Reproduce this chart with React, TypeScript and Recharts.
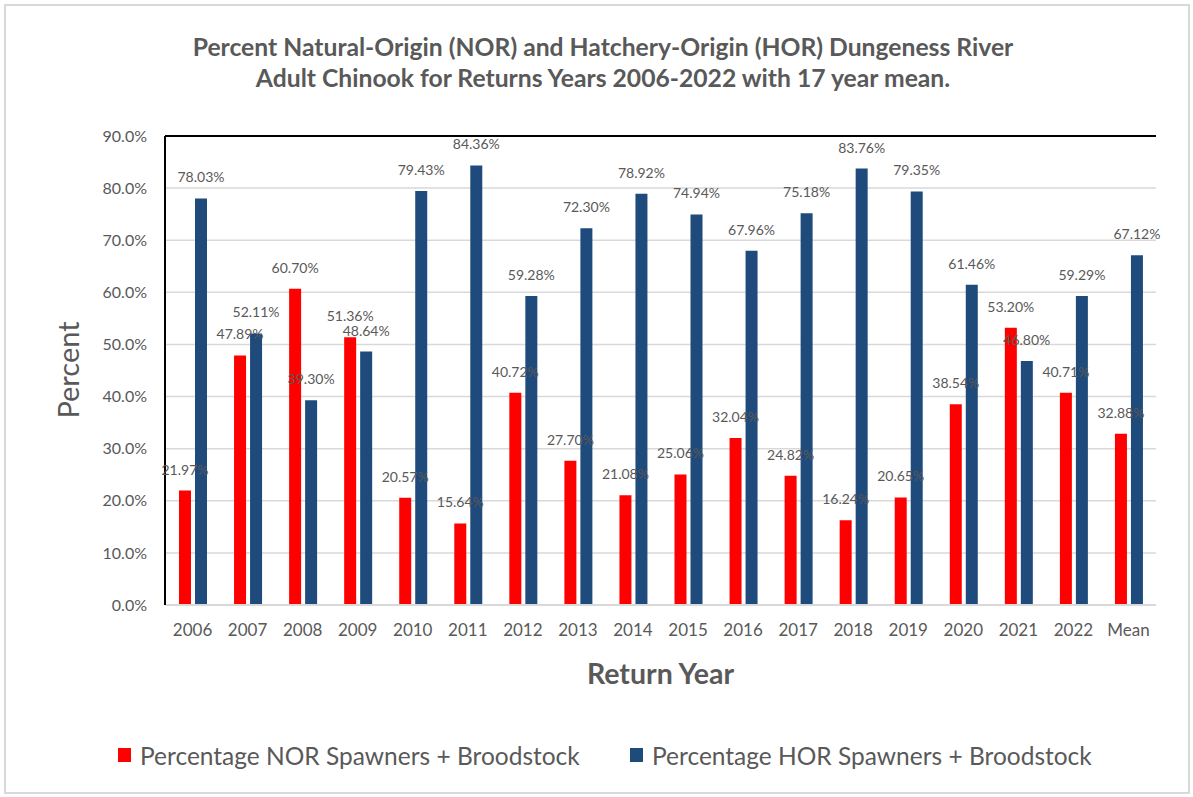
import {
  Bar,
  BarChart,
  CartesianGrid,
  LabelList,
  ReferenceLine,
  XAxis,
  YAxis,
} from "recharts";

const years = [
  "2006", "2007", "2008", "2009", "2010", "2011", "2012", "2013", "2014",
  "2015", "2016", "2017", "2018", "2019", "2020", "2021", "2022", "Mean",
];
const norPct = [
  21.97, 47.89, 60.7, 51.36, 20.57, 15.64, 40.72, 27.7, 21.08,
  25.06, 32.04, 24.82, 16.24, 20.65, 38.54, 53.2, 40.71, 32.88,
];
const horPct = [
  78.03, 52.11, 39.3, 48.64, 79.43, 84.36, 59.28, 72.3, 78.92,
  74.94, 67.96, 75.18, 83.76, 79.35, 61.46, 46.8, 59.29, 67.12,
];
const yTicks = [0, 10, 20, 30, 40, 50, 60, 70, 80, 90];

const NOR_RED = "#ff0000";
const HOR_BLUE = "#1f4a7c";
const TEXT = "#595959";
const GRID = "#d9d9d9";
const FONT = "Lato, 'Noto Sans', sans-serif";

const rows = years.map((year, i) => ({ year, nor: norPct[i], hor: horPct[i] }));

const fmtLabel = (v: any) => `${Number(v).toFixed(2)}%`;

function ChartLegend() {
  const items = [
    { name: "Percentage NOR Spawners + Broodstock", color: NOR_RED, left: 118 },
    { name: "Percentage HOR Spawners + Broodstock", color: HOR_BLUE, left: 630 },
  ];
  return (
    <>
      {items.map((it) => (
        <div
          key={it.name}
          style={{
            position: "absolute",
            left: it.left,
            top: 740,
            height: 30,
            display: "flex",
            alignItems: "center",
            fontFamily: FONT,
            fontSize: 24.5,
            color: TEXT,
            whiteSpace: "nowrap",
          }}
        >
          <span style={{ width: 13, height: 14, background: it.color, marginRight: 9 }} />
          <span>{it.name}</span>
        </div>
      ))}
    </>
  );
}

export default function App() {
  return (
    <div
      style={{
        position: "absolute",
        left: 0,
        top: 0,
        width: 1193,
        height: 797,
        background: "#fff",
        fontFamily: FONT,
      }}
    >
      <div
        style={{
          position: "absolute",
          left: 4,
          top: 4,
          width: 1182,
          height: 786,
          border: "2px solid #d9d9d9",
        }}
      />
      <div
        style={{
          position: "absolute",
          left: 0,
          top: 31,
          width: 1206,
          textAlign: "center",
          fontWeight: 700,
          fontSize: 24.7,
          lineHeight: "31px",
          color: TEXT,
        }}
      >
        Percent Natural-Origin (NOR) and Hatchery-Origin (HOR) Dungeness River
        <br />
        Adult Chinook for Returns Years 2006-2022 with 17 year mean.
      </div>
      <div
        style={{
          position: "absolute",
          left: 68,
          top: 370,
          transform: "translate(-50%, -50%) rotate(-90deg)",
          fontSize: 29,
          lineHeight: "32px",
          color: TEXT,
          whiteSpace: "nowrap",
        }}
      >
        Percent
      </div>
      <BarChart
        width={1193}
        height={797}
        data={rows}
        margin={{ top: 136, right: 37, bottom: 112, left: 90 }}
        barSize={12}
        barGap={4}
        style={{ position: "absolute", left: 0, top: 0 }}
      >
        <CartesianGrid vertical={false} stroke={GRID} strokeWidth={1.5} />
        <XAxis
          dataKey="year"
          height={80}
          tickLine={false}
          axisLine={{ stroke: GRID, strokeWidth: 2 }}
          tickSize={0}
          tickMargin={19}
          tick={{ fill: TEXT, fontSize: 17, fontFamily: FONT }}
          label={{
            value: "Return Year",
            position: "insideBottom",
            offset: 1,
            fill: TEXT,
            fontSize: 28.5,
            fontWeight: 700,
            fontFamily: FONT,
          }}
        />
        <YAxis
          width={75}
          domain={[0, 90]}
          ticks={yTicks}
          interval={0}
          tickLine={false}
          tickSize={0}
          tickMargin={18}
          axisLine={{ stroke: "#000", strokeWidth: 2 }}
          tickFormatter={(v) => `${Number(v).toFixed(1)}%`}
          tick={{ fill: TEXT, fontSize: 16, fontFamily: FONT }}
        />
        <YAxis
          yAxisId="frame"
          orientation="right"
          width={0}
          domain={[0, 90]}
          tick={false}
          tickLine={false}
          axisLine={{ stroke: "#000", strokeWidth: 2 }}
        />
        <ReferenceLine y={90} stroke="#000" strokeWidth={2} />
        <Bar dataKey="nor" name="Percentage NOR Spawners + Broodstock" fill={NOR_RED} isAnimationActive={false}>
          <LabelList
            dataKey="nor"
            position="top"
            offset={16}
            formatter={fmtLabel}
            fill={TEXT}
            fontSize={14}
            fontFamily={FONT}
          />
        </Bar>
        <Bar dataKey="hor" name="Percentage HOR Spawners + Broodstock" fill={HOR_BLUE} isAnimationActive={false}>
          <LabelList
            dataKey="hor"
            position="top"
            offset={16}
            formatter={fmtLabel}
            fill={TEXT}
            fontSize={14}
            fontFamily={FONT}
          />
        </Bar>
      </BarChart>
      <ChartLegend />
    </div>
  );
}
